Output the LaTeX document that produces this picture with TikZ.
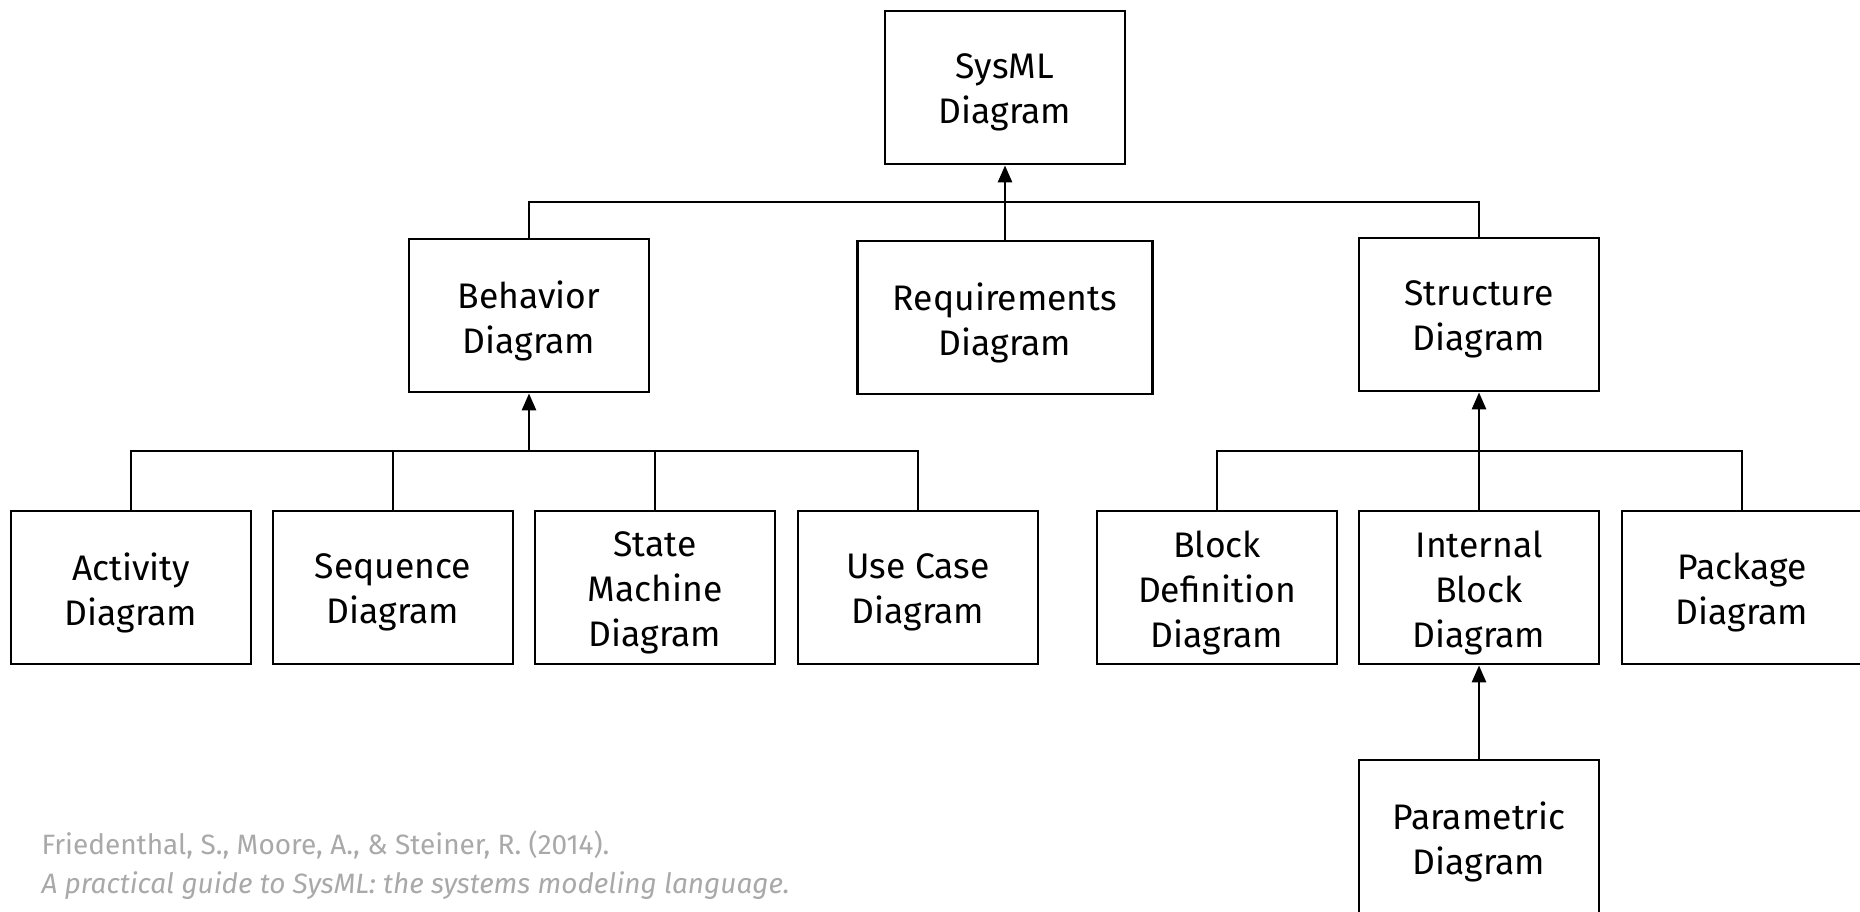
\documentclass[tikz,border=0pt]{standalone}
\usepackage{fontspec}
\setmainfont{Fira Sans}
\usetikzlibrary{arrows.meta}
\definecolor{citegray}{HTML}{A9A9A9}
\tikzset{
  x=1pt, y=-1pt,
  boxtext/.style={align=center, inner sep=0pt, yshift=-5pt,
    font=\fontsize{35.5}{45}\selectfont},
  diag/.style={draw=black, line width=2.8pt, minimum width=240pt, minimum height=153pt,
    inner sep=0pt, label={[boxtext]center:#1}},
  link/.style={line width=2.8pt},
  gen/.style={line width=2.8pt, -{Triangle[length=17pt,width=14pt]}},
}
\begin{document}
\begin{tikzpicture}
\useasboundingbox (0,0) rectangle (1860,912);
\clip (0,0) rectangle (1860,912);
\fill[white] (0,0) rectangle (1860,912);

% top level
\node[diag={SysML\\Diagram}] (sys) at (1005,87.5) {};
\node[diag={Behavior\\Diagram}] (beh) at (529,315.5) {};
\node[diag={Requirements\\Diagram}, minimum width=295pt] (req) at (1005,317.5) {};
\node[diag={Structure\\Diagram}] (str) at (1479,314.5) {};

% behavior family
\node[diag={Activity\\Diagram}] (act) at (131,587.5) {};
\node[diag={Sequence\\Diagram}] (seq) at (393,587.5) {};
\node[diag={State\\Machine\\Diagram}] (stm) at (655,587.5) {};
\node[diag={Use Case\\Diagram}] (uc) at (918,587.5) {};

% structure family
\node[diag={Block\\Definition\\Diagram}] (bdd) at (1217,587.5) {};
\node[diag={Internal\\Block\\Diagram}] (ibd) at (1479,587.5) {};
\node[diag={Package\\Diagram}] (pkg) at (1742,587.5) {};
\node[diag={Parametric\\Diagram}] (par) at (1479,836.5) {};

% bus lines
\coordinate (topbus) at (1005,202);
\coordinate (lowbus) at (0,451);

\draw[link] (beh.north) |- (str.north |- topbus) -- (str.north);
\draw[gen] (req.north) -- (sys.south);

\draw[link] (act.north) |- (uc.north |- lowbus) -- (uc.north);
\draw[link] (seq.north) -- (seq.north |- lowbus);
\draw[link] (stm.north) -- (stm.north |- lowbus);
\draw[gen] (beh.south |- lowbus) -- (beh.south);

\draw[link] (bdd.north) |- (pkg.north |- lowbus) -- (pkg.north);
\draw[gen] (ibd.north) -- (str.south);
\draw[gen] (par.north) -- (ibd.south);

% reference
\node[anchor=base west, text=citegray, align=left,
  font=\fontsize{28}{39}\selectfont] (cite) at (38,893)
  {Friedenthal, S., Moore, A., \& Steiner, R. (2014).\\
   \textit{A practical guide to SysML: the systems modeling language.}};
\end{tikzpicture}
\end{document}
